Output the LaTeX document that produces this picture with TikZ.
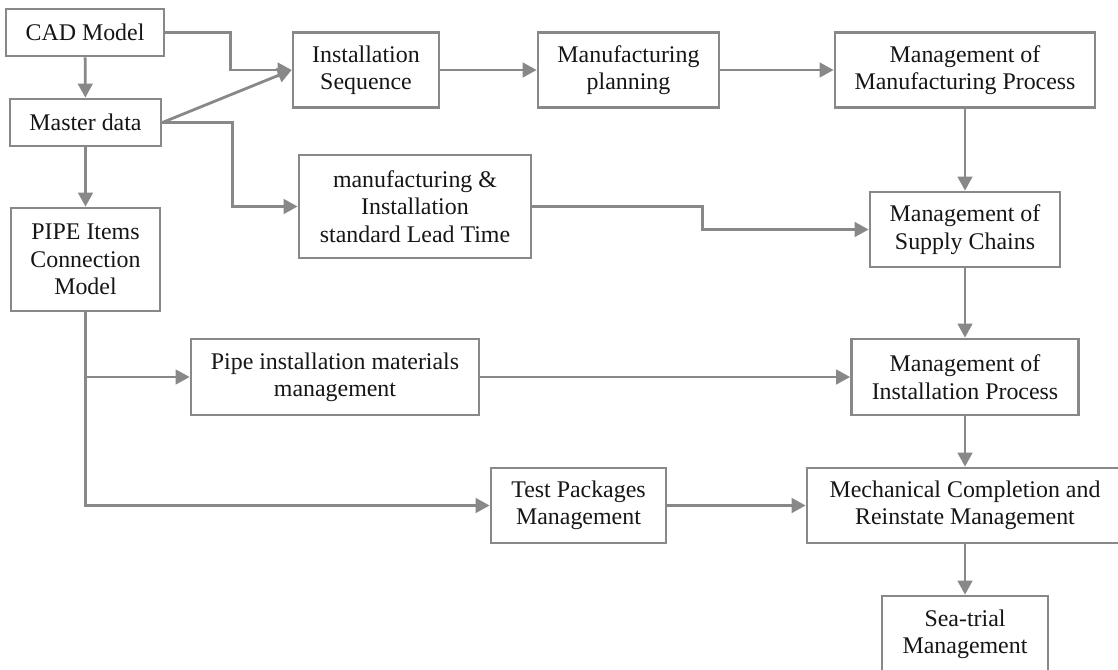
\documentclass[tikz,border=0pt]{standalone}
\usepackage{fontspec}
\setmainfont{Liberation Serif}
\usetikzlibrary{arrows.meta}
\definecolor{linegray}{HTML}{888888}
\definecolor{textdark}{HTML}{161616}
\tikzset{
  box/.style={draw=linegray, line width=2.7pt, fill=white, align=center,
    inner sep=0pt, text=textdark,
    font=\fontsize{23.9}{27.4}\selectfont},
  arr/.style={draw=linegray, line width=2.8pt,
    -{Triangle[length=14pt,width=14.5pt]}}
}
\begin{document}
\begin{tikzpicture}[x=1pt,y=-1pt]
  \useasboundingbox (0,0) rectangle (1118,669);
  \fill[white] (0,0) rectangle (1118,669);
  \clip (0,0) rectangle (1118,669);

  % left column: sources
  \node[box, minimum width=158pt, minimum height=47pt]  (cad)    at (85,32.5)   {CAD Model};
  \node[box, minimum width=151pt, minimum height=47pt]  (master) at (85.5,122.5) {Master data};
  \node[box, minimum width=149pt, minimum height=103pt] (pipe)   at (85.5,259.5) {PIPE Items\\Connection\\Model};

  % planning row
  \node[box, minimum width=146pt, minimum height=75pt]  (iseq) at (366,70)    {Installation\\Sequence};
  \node[box, minimum width=181pt, minimum height=75pt]  (mplan) at (628.5,70) {Manufacturing\\planning};
  \node[box, minimum width=260pt, minimum height=75pt]  (mmp)  at (965,70)    {Management of\\Manufacturing Process};

  \node[box, minimum width=232pt, minimum height=103pt] (lead) at (415,206.5) {manufacturing \&\\Installation\\standard Lead Time};
  \node[box, minimum width=190pt, minimum height=75pt]  (supply) at (965,229.5) {Management of\\Supply Chains};

  \node[box, minimum width=288pt, minimum height=76pt]  (pim) at (335,377)   {Pipe installation materials\\management};
  \node[box, minimum width=227pt, minimum height=76pt]  (mip) at (965,377)   {Management of\\Installation Process};

  \node[box, minimum width=175pt, minimum height=75pt]  (tp)  at (578.5,505.5) {Test Packages\\Management};
  \node[box, minimum width=316pt, minimum height=75pt]  (mcr) at (965,505.5)   {Mechanical Completion and\\Reinstate Management};

  \node[box, minimum width=166pt, minimum height=76pt]  (sea) at (965,634)   {Sea-trial\\Management};

  % connectors
  \draw[arr] (cad) -- (master);
  \draw[arr] (master) -- (pipe);
  \draw[arr] (cad.east) -- ++(65,0) |- (iseq.west);
  \draw[arr] (master.east) -- (iseq.west);
  \draw[arr] (master.east) -- ++(70,0) |- (lead.west);
  \draw[arr] (iseq.east) -- (mplan.west);
  \draw[arr] (mplan.east) -- (mmp.west);
  \draw[arr] (mmp) -- (supply);
  \draw[arr] (lead.east) -- ++(170,0) |- (supply.west);
  \draw[arr] (supply) -- (mip);
  \draw[arr] (pipe.south) |- (pim.west);
  \draw[arr] (pipe.south) |- (tp.west);
  \draw[arr] (pim.east) -- (mip.west);
  \draw[arr] (mip) -- (mcr);
  \draw[arr] (tp.east) -- (mcr.west);
  \draw[arr] (mcr) -- (sea);
\end{tikzpicture}
\end{document}
